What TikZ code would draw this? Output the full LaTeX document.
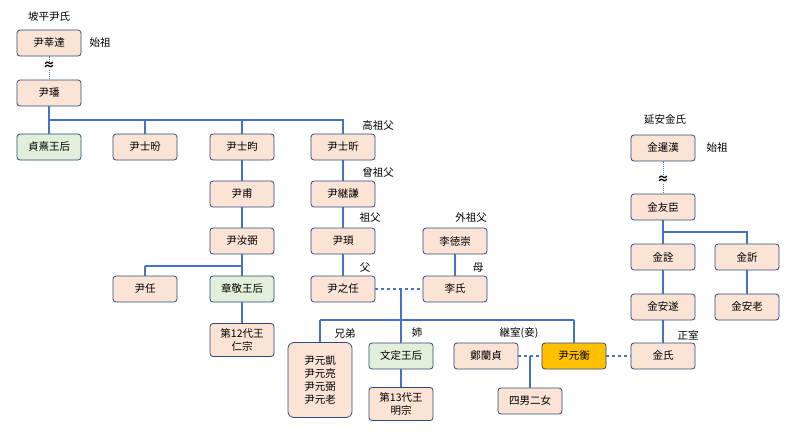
\documentclass[tikz,border=0pt]{standalone}
\usepackage{fontspec}
\setmainfont{Noto Sans CJK JP}
\begin{document}
\begin{tikzpicture}[x=1pt,y=-1pt,
 b/.style={draw=boxb,fill=peach,rounded corners=3pt,minimum width=64pt,minimum height=26pt,line width=0.8pt,font=\fontsize{10.5}{13}\selectfont,align=center,inner sep=1pt},
 g/.style={b,fill=greenf}, o/.style={b,fill=orangef},
 lab/.style={font=\fontsize{10.5}{12}\selectfont,inner sep=0pt},
 ln/.style={draw=lineb,line width=1.1pt},
 dl/.style={ln,dashed}]
\definecolor{peach}{HTML}{FBE3D6}\definecolor{boxb}{HTML}{2F4A7A}
\definecolor{greenf}{HTML}{E2EFDA}\definecolor{orangef}{HTML}{FFC000}
\definecolor{lineb}{HTML}{4472C4}
\useasboundingbox (0,0) rectangle (800,440);
\node[lab] (t1) at (49,17) {坡平尹氏};
\node[b] (a) at (49,43) {尹莘達};
\node[lab] (s1) at (100,43) {始祖};
\node[lab,font=\bfseries\fontsize{12}{12}\selectfont] (w1) at (49,66) {≈};
\node[b] (c) at (49,93) {尹璠};
\draw[ln,densely dotted,line width=0.6pt] (a) -- (w1) -- (c);
\node[g] (d1) at (49,147) {貞熹王后};
\node[b] (d2) at (145,147) {尹士昐};
\node[b] (d3) at (242,147) {尹士昀};
\node[b] (d4) at (343,147) {尹士昕};
\node[lab] at (378,126) {高祖父};
\coordinate (h1) at (49,120);
\draw[ln] (c) -- (d1) (h1) -- (343,120) -- (d4) (145,120) -- (d2) (242,120) -- (d3);
\node[b] (e1) at (242,194) {尹甫};
\node[b] (e2) at (343,194) {尹継謙};
\node[lab] at (378,173) {曾祖父};
\node[b] (f1) at (242,241) {尹汝弼};
\node[b] (f2) at (343,241) {尹頊};
\node[b] (f3) at (455,241) {李徳崇};
\node[lab] at (370,218) {祖父};
\node[lab] at (471,218) {外祖父};
\draw[ln] (d3)--(e1)--(f1) (d4)--(e2)--(f2);
\node[b] (g1) at (145,289) {尹任};
\node[g] (g2) at (242,289) {章敬王后};
\node[b] (g3) at (343,289) {尹之任};
\node[b] (g4) at (455,289) {李氏};
\node[lab] at (365,268) {父};
\node[lab] at (478,268) {母};
\draw[ln] (f1) -- (g2) (145,266) -- (242,266) (145,266) -- (g1) (f2)--(g3) (f3)--(g4);
\node[b,minimum height=33pt] (h0) at (242,340) {第12代王\\仁宗};
\draw[ln] (g2)--(h0);
\draw[dl] (g3) -- (g4);
\coordinate (m) at (401,289);
\draw[ln] (m) -- (401,320) (320,320) -- (574,320);
\node[b,minimum height=75pt,rounded corners=6pt] (k1) at (320,380) {尹元凱\\尹元亮\\尹元弼\\尹元老};
\node[g] (k2) at (401,356) {文定王后};
\node[o] (k3) at (574,356) {尹元衡};
\node[b] (k4) at (486,356) {鄭蘭貞};
\node[b] (k5) at (663,356) {金氏};
\node[lab] at (345,333) {兄弟};
\node[lab] at (417,333) {姉};
\node[lab] at (519,333) {継室(妾)};
\node[lab] at (688,335) {正室};
\draw[ln] (320,320) -- (k1.north) (401,320) -- (k2) (574,320) -- (k3);
\node[b,minimum height=33pt] (l1) at (401,404) {第13代王\\明宗};
\node[b] (l2) at (530,401) {四男二女};
\draw[ln] (k2) -- (l1) (530,356) -- (l2);
\draw[dl] (k4) -- (k3); \draw[dl] (k3) -- (k5);
\node[lab] at (665,120) {延安金氏};
\node[b] (r1) at (663,148) {金暹漢};
\node[lab] at (717,148) {始祖};
\node[lab,font=\bfseries\fontsize{12}{12}\selectfont] (w2) at (663,180) {≈};
\node[b] (r2) at (663,207) {金友臣};
\draw[ln,densely dotted,line width=0.6pt] (r1) -- (w2) -- (r2);
\node[b] (r3) at (663,257) {金詮};
\node[b] (r4) at (747,257) {金訢};
\node[b] (r5) at (663,307) {金安遂};
\node[b] (r6) at (747,307) {金安老};
\draw[ln] (r2) -- (r3) (663,232) -- (747,232) -- (r4) (r3)--(r5)--(k5) (r4)--(r6);
\end{tikzpicture}
\end{document}
